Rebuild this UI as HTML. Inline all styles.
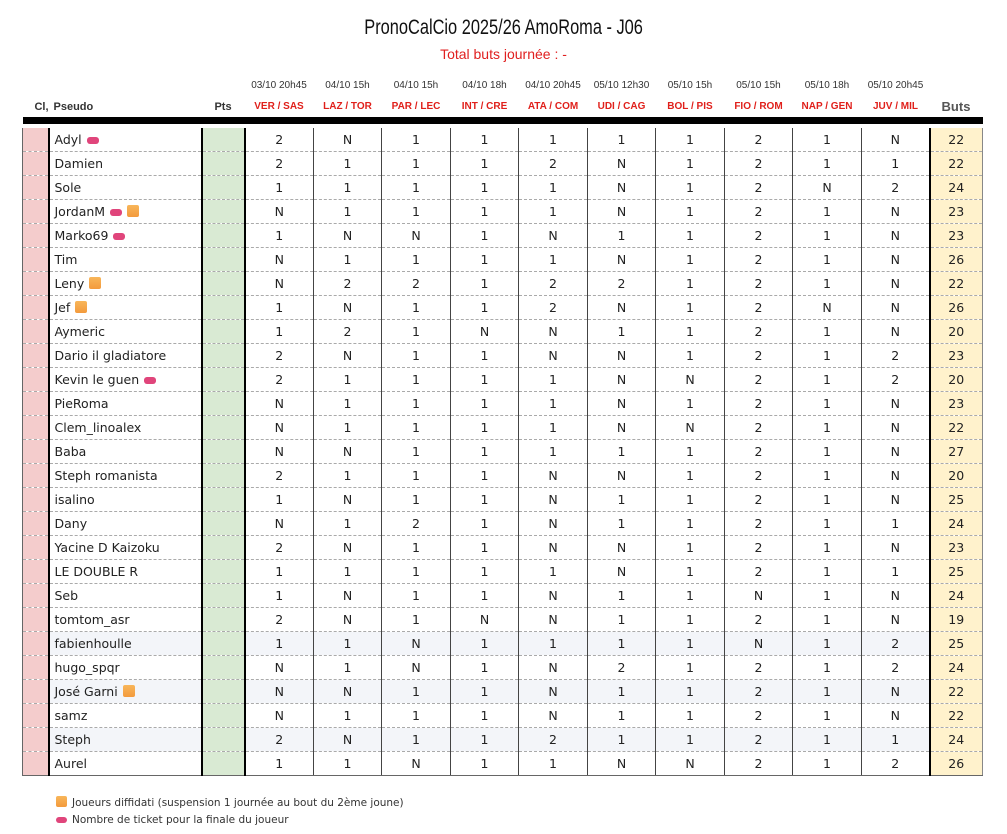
<!DOCTYPE html>
<html><head><meta charset="utf-8"><style>
body{margin:0;background:#fff;width:1007px;height:834px;position:relative;overflow:hidden;font-family:"DejaVu Sans","Liberation Sans",sans-serif;}
.title{position:absolute;top:16px;left:0;width:1007px;text-align:center;font-family:"Liberation Sans",sans-serif;font-size:21px;color:#111;}
.title span{display:inline-block;transform:scaleX(0.78);}
.sub{position:absolute;top:46px;left:0;width:1007px;text-align:center;font-family:"Liberation Sans",sans-serif;font-size:14px;color:#e02020;}
table{position:absolute;left:22px;top:74px;border-collapse:collapse;table-layout:fixed;width:960px;}
td{padding:0;overflow:hidden;white-space:nowrap;}
tr.d td{height:22px;font-family:"Liberation Sans",sans-serif;font-size:10px;color:#333;text-align:center;vertical-align:middle;}
tr.c td{height:21px;font-family:"Liberation Sans",sans-serif;font-size:10px;font-weight:bold;color:#e0201b;text-align:center;vertical-align:middle;}
tr.c td.h{color:#333;font-size:11px;}
tr.c td.b{color:#555;font-size:13px;}
tr.k td{height:7px;background:#000;border-bottom:4px solid #fff;}
tr.r td{height:23px;border-bottom:1px dashed #aaa;font-size:12.5px;color:#222;text-align:center;border-left:1px solid #444;}
tr.r td.cl{background:#f4cccc;border-left:1px solid #666;}
tr.r td.n{text-align:left;padding-left:5px;border-left:2px solid #000;}
tr.r td.p{background:#d9ead3;border-left:2px solid #000;}
tr.r td.m1{border-left:2px solid #000;}
tr.r td.bu{background:#fff2cc;border-left:2px solid #000;border-right:1px solid #888;}
tr.r.g td.n, tr.r.g td.v{background:#f3f5f9;}
tr.r.last td{border-bottom:1px solid #666;}
.t{display:inline-block;width:12px;height:7px;background:#e0457b;border-radius:3px;margin-left:5px;vertical-align:middle;}
.o{display:inline-block;width:12px;height:12px;background:linear-gradient(#f8b65a,#f39a3c);border-radius:2px;margin-left:5px;vertical-align:-1px;}
.leg{position:absolute;left:56px;font-size:10.5px;color:#333;}
</style></head><body>
<div class="title"><span>PronoCalCio 2025/26 AmoRoma - J06</span></div>
<div class="sub">Total buts journée : -</div>
<table>
<colgroup><col style="width:26px"><col style="width:153px"><col style="width:43px"><col style="width:69px"><col style="width:68px"><col style="width:69px"><col style="width:68px"><col style="width:69px"><col style="width:68px"><col style="width:69px"><col style="width:68px"><col style="width:69px"><col style="width:68px"><col style="width:53px"></colgroup>
<tr class="d"><td></td><td></td><td></td><td>03/10 20h45</td><td>04/10 15h</td><td>04/10 15h</td><td>04/10 18h</td><td>04/10 20h45</td><td>05/10 12h30</td><td>05/10 15h</td><td>05/10 15h</td><td>05/10 18h</td><td>05/10 20h45</td><td></td></tr>
<tr class="c"><td class="h" style="text-align:right">Cl,</td><td class="h" style="text-align:left;padding-left:5px">Pseudo</td><td class="h">Pts</td><td>VER / SAS</td><td>LAZ / TOR</td><td>PAR / LEC</td><td>INT / CRE</td><td>ATA / COM</td><td>UDI / CAG</td><td>BOL / PIS</td><td>FIO / ROM</td><td>NAP / GEN</td><td>JUV / MIL</td><td class="b">Buts</td></tr>
<tr class="k"><td></td><td></td><td></td><td></td><td></td><td></td><td></td><td></td><td></td><td></td><td></td><td></td><td></td><td></td></tr>
<tr class="r"><td class="cl"></td><td class="n">Adyl<span class="t"></span></td><td class="p"></td><td class="v m1">2</td><td class="v">N</td><td class="v">1</td><td class="v">1</td><td class="v">1</td><td class="v">1</td><td class="v">1</td><td class="v">2</td><td class="v">1</td><td class="v">N</td><td class="bu">22</td></tr>
<tr class="r"><td class="cl"></td><td class="n">Damien</td><td class="p"></td><td class="v m1">2</td><td class="v">1</td><td class="v">1</td><td class="v">1</td><td class="v">2</td><td class="v">N</td><td class="v">1</td><td class="v">2</td><td class="v">1</td><td class="v">1</td><td class="bu">22</td></tr>
<tr class="r"><td class="cl"></td><td class="n">Sole</td><td class="p"></td><td class="v m1">1</td><td class="v">1</td><td class="v">1</td><td class="v">1</td><td class="v">1</td><td class="v">N</td><td class="v">1</td><td class="v">2</td><td class="v">N</td><td class="v">2</td><td class="bu">24</td></tr>
<tr class="r"><td class="cl"></td><td class="n">JordanM<span class="t"></span><span class="o"></span></td><td class="p"></td><td class="v m1">N</td><td class="v">1</td><td class="v">1</td><td class="v">1</td><td class="v">1</td><td class="v">N</td><td class="v">1</td><td class="v">2</td><td class="v">1</td><td class="v">N</td><td class="bu">23</td></tr>
<tr class="r"><td class="cl"></td><td class="n">Marko69<span class="t"></span></td><td class="p"></td><td class="v m1">1</td><td class="v">N</td><td class="v">N</td><td class="v">1</td><td class="v">N</td><td class="v">1</td><td class="v">1</td><td class="v">2</td><td class="v">1</td><td class="v">N</td><td class="bu">23</td></tr>
<tr class="r"><td class="cl"></td><td class="n">Tim</td><td class="p"></td><td class="v m1">N</td><td class="v">1</td><td class="v">1</td><td class="v">1</td><td class="v">1</td><td class="v">N</td><td class="v">1</td><td class="v">2</td><td class="v">1</td><td class="v">N</td><td class="bu">26</td></tr>
<tr class="r"><td class="cl"></td><td class="n">Leny<span class="o"></span></td><td class="p"></td><td class="v m1">N</td><td class="v">2</td><td class="v">2</td><td class="v">1</td><td class="v">2</td><td class="v">2</td><td class="v">1</td><td class="v">2</td><td class="v">1</td><td class="v">N</td><td class="bu">22</td></tr>
<tr class="r"><td class="cl"></td><td class="n">Jef<span class="o"></span></td><td class="p"></td><td class="v m1">1</td><td class="v">N</td><td class="v">1</td><td class="v">1</td><td class="v">2</td><td class="v">N</td><td class="v">1</td><td class="v">2</td><td class="v">N</td><td class="v">N</td><td class="bu">26</td></tr>
<tr class="r"><td class="cl"></td><td class="n">Aymeric</td><td class="p"></td><td class="v m1">1</td><td class="v">2</td><td class="v">1</td><td class="v">N</td><td class="v">N</td><td class="v">1</td><td class="v">1</td><td class="v">2</td><td class="v">1</td><td class="v">N</td><td class="bu">20</td></tr>
<tr class="r"><td class="cl"></td><td class="n">Dario il gladiatore</td><td class="p"></td><td class="v m1">2</td><td class="v">N</td><td class="v">1</td><td class="v">1</td><td class="v">N</td><td class="v">N</td><td class="v">1</td><td class="v">2</td><td class="v">1</td><td class="v">2</td><td class="bu">23</td></tr>
<tr class="r"><td class="cl"></td><td class="n">Kevin le guen<span class="t"></span></td><td class="p"></td><td class="v m1">2</td><td class="v">1</td><td class="v">1</td><td class="v">1</td><td class="v">1</td><td class="v">N</td><td class="v">N</td><td class="v">2</td><td class="v">1</td><td class="v">2</td><td class="bu">20</td></tr>
<tr class="r"><td class="cl"></td><td class="n">PieRoma</td><td class="p"></td><td class="v m1">N</td><td class="v">1</td><td class="v">1</td><td class="v">1</td><td class="v">1</td><td class="v">N</td><td class="v">1</td><td class="v">2</td><td class="v">1</td><td class="v">N</td><td class="bu">23</td></tr>
<tr class="r"><td class="cl"></td><td class="n">Clem_linoalex</td><td class="p"></td><td class="v m1">N</td><td class="v">1</td><td class="v">1</td><td class="v">1</td><td class="v">1</td><td class="v">N</td><td class="v">N</td><td class="v">2</td><td class="v">1</td><td class="v">N</td><td class="bu">22</td></tr>
<tr class="r"><td class="cl"></td><td class="n">Baba</td><td class="p"></td><td class="v m1">N</td><td class="v">N</td><td class="v">1</td><td class="v">1</td><td class="v">1</td><td class="v">1</td><td class="v">1</td><td class="v">2</td><td class="v">1</td><td class="v">N</td><td class="bu">27</td></tr>
<tr class="r"><td class="cl"></td><td class="n">Steph romanista</td><td class="p"></td><td class="v m1">2</td><td class="v">1</td><td class="v">1</td><td class="v">1</td><td class="v">N</td><td class="v">N</td><td class="v">1</td><td class="v">2</td><td class="v">1</td><td class="v">N</td><td class="bu">20</td></tr>
<tr class="r"><td class="cl"></td><td class="n">isalino</td><td class="p"></td><td class="v m1">1</td><td class="v">N</td><td class="v">1</td><td class="v">1</td><td class="v">N</td><td class="v">1</td><td class="v">1</td><td class="v">2</td><td class="v">1</td><td class="v">N</td><td class="bu">25</td></tr>
<tr class="r"><td class="cl"></td><td class="n">Dany</td><td class="p"></td><td class="v m1">N</td><td class="v">1</td><td class="v">2</td><td class="v">1</td><td class="v">N</td><td class="v">1</td><td class="v">1</td><td class="v">2</td><td class="v">1</td><td class="v">1</td><td class="bu">24</td></tr>
<tr class="r"><td class="cl"></td><td class="n">Yacine D Kaizoku</td><td class="p"></td><td class="v m1">2</td><td class="v">N</td><td class="v">1</td><td class="v">1</td><td class="v">N</td><td class="v">N</td><td class="v">1</td><td class="v">2</td><td class="v">1</td><td class="v">N</td><td class="bu">23</td></tr>
<tr class="r"><td class="cl"></td><td class="n">LE DOUBLE R</td><td class="p"></td><td class="v m1">1</td><td class="v">1</td><td class="v">1</td><td class="v">1</td><td class="v">1</td><td class="v">N</td><td class="v">1</td><td class="v">2</td><td class="v">1</td><td class="v">1</td><td class="bu">25</td></tr>
<tr class="r"><td class="cl"></td><td class="n">Seb</td><td class="p"></td><td class="v m1">1</td><td class="v">N</td><td class="v">1</td><td class="v">1</td><td class="v">N</td><td class="v">1</td><td class="v">1</td><td class="v">N</td><td class="v">1</td><td class="v">N</td><td class="bu">24</td></tr>
<tr class="r"><td class="cl"></td><td class="n">tomtom_asr</td><td class="p"></td><td class="v m1">2</td><td class="v">N</td><td class="v">1</td><td class="v">N</td><td class="v">N</td><td class="v">1</td><td class="v">1</td><td class="v">2</td><td class="v">1</td><td class="v">N</td><td class="bu">19</td></tr>
<tr class="r g"><td class="cl"></td><td class="n">fabienhoulle</td><td class="p"></td><td class="v m1">1</td><td class="v">1</td><td class="v">N</td><td class="v">1</td><td class="v">1</td><td class="v">1</td><td class="v">1</td><td class="v">N</td><td class="v">1</td><td class="v">2</td><td class="bu">25</td></tr>
<tr class="r"><td class="cl"></td><td class="n">hugo_spqr</td><td class="p"></td><td class="v m1">N</td><td class="v">1</td><td class="v">N</td><td class="v">1</td><td class="v">N</td><td class="v">2</td><td class="v">1</td><td class="v">2</td><td class="v">1</td><td class="v">2</td><td class="bu">24</td></tr>
<tr class="r g"><td class="cl"></td><td class="n">José Garni<span class="o"></span></td><td class="p"></td><td class="v m1">N</td><td class="v">N</td><td class="v">1</td><td class="v">1</td><td class="v">N</td><td class="v">1</td><td class="v">1</td><td class="v">2</td><td class="v">1</td><td class="v">N</td><td class="bu">22</td></tr>
<tr class="r"><td class="cl"></td><td class="n">samz</td><td class="p"></td><td class="v m1">N</td><td class="v">1</td><td class="v">1</td><td class="v">1</td><td class="v">N</td><td class="v">1</td><td class="v">1</td><td class="v">2</td><td class="v">1</td><td class="v">N</td><td class="bu">22</td></tr>
<tr class="r g"><td class="cl"></td><td class="n">Steph</td><td class="p"></td><td class="v m1">2</td><td class="v">N</td><td class="v">1</td><td class="v">1</td><td class="v">2</td><td class="v">1</td><td class="v">1</td><td class="v">2</td><td class="v">1</td><td class="v">1</td><td class="bu">24</td></tr>
<tr class="r last"><td class="cl"></td><td class="n">Aurel</td><td class="p"></td><td class="v m1">1</td><td class="v">1</td><td class="v">N</td><td class="v">1</td><td class="v">1</td><td class="v">N</td><td class="v">N</td><td class="v">2</td><td class="v">1</td><td class="v">2</td><td class="bu">26</td></tr>
</table>
<div class="leg" style="top:796px"><span class="o" style="margin:0 5px 0 0;width:11px;height:11px"></span>Joueurs diffidati (suspension 1 journée au bout du 2ème joune)</div>
<div class="leg" style="top:814px"><span class="t" style="margin:0 5px 0 0;width:11px;height:6px"></span>Nombre de ticket pour la finale du joueur</div>
</body></html>
